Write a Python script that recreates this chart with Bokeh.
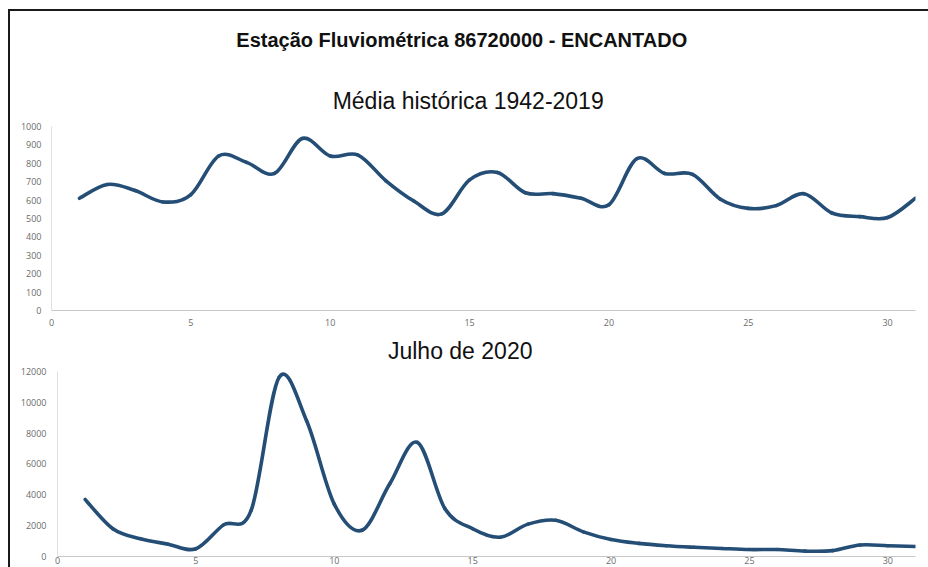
from bokeh.plotting import figure
from bokeh.models import Label, FixedTicker, Range1d, Div
from bokeh.layouts import column, row
from bokeh.embed import file_html
from bokeh.resources import INLINE

# ---- data ----
days = list(range(1, 32))
media_historica = [610, 685, 652, 590, 630, 840, 805, 745, 935, 840, 845, 705, 595, 525, 710,
                   750, 640, 635, 610, 575, 825, 745, 740, 605, 555, 570, 635, 530, 510, 505, 610]
julho_2020 = [3700, 1800, 1150, 800, 500, 2050, 3000, 11600, 8800, 3400, 1700, 4700, 7400, 3100, 1800,
              1250, 2100, 2350, 1600, 1100, 850, 700, 600, 520, 450, 450, 350, 380, 750, 700, 650]
x_ticks = [0, 5, 10, 15, 20, 25, 30]
y1_ticks = list(range(0, 1001, 100))
y2_ticks = list(range(0, 12001, 2000))

main_title = "Estação Fluviométrica 86720000  - ENCANTADO"
sub_title1 = "Média histórica 1942-2019"
sub_title2 = "Julho de 2020"

LINE = "#244e75"
TICK = "#6b6b6b"
AX = "#c8c8c8"


def smooth_segments(xs, ys):
    """Catmull-Rom style control points for Bezier segments (Excel-like smoothed line)."""
    n = len(xs)
    out = {k: [] for k in ("x0", "y0", "x1", "y1", "cx0", "cy0", "cx1", "cy1")}
    for i in range(n - 1):
        p0 = (xs[max(i - 1, 0)], ys[max(i - 1, 0)])
        p1 = (xs[i], ys[i])
        p2 = (xs[i + 1], ys[i + 1])
        p3 = (xs[min(i + 2, n - 1)], ys[min(i + 2, n - 1)])
        out["x0"].append(p1[0]); out["y0"].append(p1[1])
        out["x1"].append(p2[0]); out["y1"].append(p2[1])
        out["cx0"].append(p1[0] + (p2[0] - p0[0]) / 6.0)
        out["cy0"].append(p1[1] + (p2[1] - p0[1]) / 6.0)
        out["cx1"].append(p2[0] - (p3[0] - p1[0]) / 6.0)
        out["cy1"].append(p2[1] - (p3[1] - p1[1]) / 6.0)
    return out


def style(p, yticks, ymax):
    p.xaxis.ticker = FixedTicker(ticks=x_ticks)
    p.yaxis.ticker = FixedTicker(ticks=yticks)
    p.yaxis.bounds = (0, ymax)
    p.xgrid.visible = False
    p.ygrid.visible = False
    p.outline_line_color = None
    for ax in (p.xaxis[0], p.yaxis[0]):
        ax.major_tick_line_color = None
        ax.minor_tick_line_color = None
        ax.major_tick_out = 0
        ax.major_tick_in = 0
        ax.minor_tick_out = 0
        ax.major_label_text_color = TICK
        ax.major_label_text_font = "Open Sans"
        ax.major_label_text_font_size = "9px"
    p.xaxis.axis_line_color = AX
    p.yaxis.axis_line_color = "#e0e0e0"
    p.yaxis.major_label_standoff = 10


# ---- top chart ----
p1 = figure(width=916, height=317, output_backend="svg", toolbar_location=None,
            x_range=Range1d(0, 31), y_range=Range1d(0, 1625),
            min_border_left=41, min_border_right=11, min_border_top=0, min_border_bottom=18)
style(p1, y1_ticks, 1000)
p1.xaxis.major_label_standoff = 8
seg1 = smooth_segments(days, media_historica)
p1.bezier(x0="x0", y0="y0", x1="x1", y1="y1", cx0="cx0", cy0="cy0", cx1="cx1", cy1="cy1",
          source=seg1, line_color=LINE, line_width=3.6, line_cap="round")
p1.add_layout(Label(x=14.82, y=1470, text=main_title, text_align="center", text_baseline="alphabetic",
                    text_font="Liberation Sans", text_font_style="bold", text_font_size="20px",
                    text_color="#111111"))
p1.add_layout(Label(x=14.95, y=1141, text=sub_title1, text_align="center", text_baseline="alphabetic",
                    text_font="Liberation Sans", text_font_size="23px", text_color="#111111"))

# ---- bottom chart ----
p2 = figure(width=910, height=239, output_backend="svg", toolbar_location=None,
            x_range=Range1d(0, 31), y_range=Range1d(0, 14785),
            min_border_left=41, min_border_right=11, min_border_top=0, min_border_bottom=11)
style(p2, y2_ticks, 12000)
p2.yaxis.major_label_standoff = 11
p2.xaxis.major_label_standoff = 0
seg2 = smooth_segments(days, julho_2020)
p2.bezier(x0="x0", y0="y0", x1="x1", y1="y1", cx0="cx0", cy0="cy0", cx1="cx1", cy1="cy1",
          source=seg2, line_color=LINE, line_width=3.6, line_cap="round")
p2.add_layout(Label(x=14.55, y=13326, text=sub_title2, text_align="center", text_baseline="alphabetic",
                    text_font="Liberation Sans", text_font_size="23px", text_color="#111111"))

# frame lines (top and left) like the reference's bordered picture
top_bar = Div(text="", width=920, height=2, margin=(9, 0, 0, 8),
              styles={"background-color": "#1a1a1a"})
left_bar = Div(text="", width=2, height=556, margin=(0, 0, 0, 8),
               styles={"background-color": "#1a1a1a"})
indent = Div(text="", width=6, height=239, margin=0)

charts = column(p1, row(indent, p2, spacing=0), spacing=0)
layout = column(top_bar, row(left_bar, charts, spacing=0), spacing=0)

open("out.html", "w").write(file_html(layout, INLINE))
